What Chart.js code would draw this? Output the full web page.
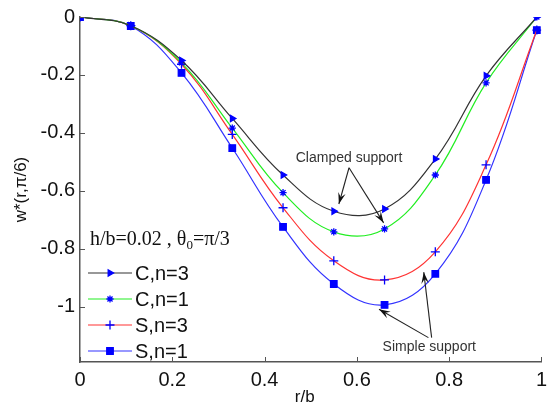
<!DOCTYPE html>
<html>
<head>
<meta charset="utf-8">
<script src="https://cdn.jsdelivr.net/npm/chart.js@4/dist/chart.umd.min.js"></script>
<style>
  html, body { margin: 0; padding: 0; background: #fff; }
  #wrap { width: 553px; height: 406px; }
</style>
</head>
<body>
<div id="wrap"><canvas id="defl"></canvas></div>
<script>
// radial position r/b
var rb = [0, 0.11, 0.22, 0.33, 0.44, 0.55, 0.66, 0.77, 0.88, 0.99];
// w*(r, pi/6) for each support / n
var clampN3 = [0, -0.03, -0.15, -0.35, -0.545, -0.67, -0.662, -0.49, -0.203, 0];
var clampN1 = [0, -0.03, -0.158, -0.383, -0.606, -0.741, -0.731, -0.545, -0.227, 0];
var simpleN3 = [0, -0.03, -0.163, -0.405, -0.658, -0.841, -0.907, -0.81, -0.51, -0.045];
var simpleN1 = [0, -0.031, -0.193, -0.452, -0.724, -0.921, -0.993, -0.886, -0.562, -0.045];
var seriesNames = ["C,n=3", "C,n=1", "S,n=3", "S,n=1"];
var xTicks = [0, 0.2, 0.4, 0.6, 0.8, 1];
var yTicks = [0, -0.2, -0.4, -0.6, -0.8, -1];

var axisColor = "#555";
var markBlue = "#0000ff";
var sans = "'Liberation Sans', Arial, sans-serif";

function pts(ys) {
	var out = [];
	for (var i = 0; i < rb.length; i++) {
		out.push({ x: rb[i], y: ys[i] });
	}
	return out;
}

function makeSet(label, ys, color, style, radius, rot) {
	return {
		label: label,
		data: pts(ys),
		borderColor: color,
		borderWidth: 1.2,
		tension: 0.4,
		pointStyle: style,
		pointRadius: radius,
		pointRotation: rot || 0,
		pointBackgroundColor: markBlue,
		pointBorderColor: markBlue,
		pointBorderWidth: 1.3,
		fill: false
	};
}

// inward tick marks, axis titles, legend and arrows
var extras = {
	id: "extras",
	afterDraw: function(c) {
		var ctx = c.ctx;
		var xs = c.scales.x, ys = c.scales.y, a = c.chartArea;
		ctx.save();
		ctx.strokeStyle = axisColor;
		ctx.lineWidth = 1;
		xTicks.forEach(function(v) {
			var px = Math.round(xs.getPixelForValue(v)) + 0.5;
			ctx.beginPath();
			ctx.moveTo(px, a.bottom);
			ctx.lineTo(px, a.bottom - 5);
			ctx.stroke();
		});
		yTicks.forEach(function(v) {
			var py = Math.round(ys.getPixelForValue(v)) + 0.5;
			ctx.beginPath();
			ctx.moveTo(a.left, py);
			ctx.lineTo(a.left + 5, py);
			ctx.stroke();
		});

		// axis titles
		ctx.fillStyle = "#111";
		ctx.font = "17px " + sans;
		ctx.textAlign = "center";
		ctx.textBaseline = "middle";
		ctx.fillText("r/b", (a.left + a.right) / 2 - 6, 397);
		ctx.save();
		ctx.translate(21, (a.top + a.bottom) / 2);
		ctx.rotate(-Math.PI / 2);
		ctx.fillText("w*(r,π/6)", 0, 0);
		ctx.restore();
		ctx.textAlign = "left";

		// parameter note
		ctx.textBaseline = "alphabetic";
		ctx.font = "20px 'Liberation Serif', serif";
		var tx = 90, ty = 245;
		var s1 = "h/b=0.02 , θ";
		ctx.fillText(s1, tx, ty);
		tx += ctx.measureText(s1).width;
		ctx.font = "13px 'Liberation Serif', serif";
		ctx.fillText("0", tx, ty + 4);
		tx += ctx.measureText("0").width;
		ctx.font = "20px 'Liberation Serif', serif";
		ctx.fillText("=π/3", tx, ty);

		// legend
		var sets = c.data.datasets;
		ctx.font = "20px " + sans;
		ctx.textBaseline = "middle";
		for (var i = 0; i < sets.length; i++) {
			var ly = 273 + i * 26;
			ctx.strokeStyle = sets[i].borderColor;
			ctx.lineWidth = 1.2;
			ctx.beginPath();
			ctx.moveTo(88, ly);
			ctx.lineTo(132, ly);
			ctx.stroke();
			ctx.fillStyle = markBlue;
			ctx.strokeStyle = markBlue;
			ctx.lineWidth = 1.3;
			Chart.helpers.drawPoint(ctx, {
				pointStyle: sets[i].pointStyle,
				radius: sets[i].pointRadius,
				rotation: sets[i].pointRotation,
				borderWidth: 1.3
			}, 110, ly);
			ctx.fillStyle = "#111";
			ctx.fillText(sets[i].label, 135, ly + 1);
		}

		// annotations
		ctx.font = "14px " + sans;
		ctx.fillStyle = "#333";
		ctx.textAlign = "center";
		ctx.fillText("Clamped support", xs.getPixelForValue(0.583), ys.getPixelForValue(-0.487));
		ctx.fillText("Simple support", xs.getPixelForValue(0.757), ys.getPixelForValue(-1.138));

		function arrow(x0, y0, x1, y1) {
			var p0x = xs.getPixelForValue(x0), p0y = ys.getPixelForValue(y0);
			var p1x = xs.getPixelForValue(x1), p1y = ys.getPixelForValue(y1);
			var ang = Math.atan2(p1y - p0y, p1x - p0x);
			ctx.strokeStyle = "#222";
			ctx.fillStyle = "#111";
			ctx.lineWidth = 1.1;
			ctx.beginPath();
			ctx.moveTo(p0x, p0y);
			ctx.lineTo(p1x, p1y);
			ctx.stroke();
			ctx.beginPath();
			ctx.moveTo(p1x, p1y);
			ctx.lineTo(p1x - 12 * Math.cos(ang - 0.32), p1y - 12 * Math.sin(ang - 0.32));
			ctx.lineTo(p1x - 7 * Math.cos(ang), p1y - 7 * Math.sin(ang));
			ctx.lineTo(p1x - 12 * Math.cos(ang + 0.32), p1y - 12 * Math.sin(ang + 0.32));
			ctx.closePath();
			ctx.fill();
		}
		arrow(0.583, -0.52, 0.561, -0.645);
		arrow(0.583, -0.52, 0.658, -0.71);
		arrow(0.755, -1.106, 0.648, -1.008);
		arrow(0.762, -1.106, 0.745, -0.88);
		ctx.restore();
	}
};

new Chart(document.getElementById("defl"), {
	type: "line",
	data: {
		datasets: [
			makeSet(seriesNames[0], clampN3, "#333333", "triangle", 3.6, 90),
			makeSet(seriesNames[1], clampN1, "#22ee22", "star", 3.6),
			makeSet(seriesNames[2], simpleN3, "#ff3333", "cross", 4.5),
			makeSet(seriesNames[3], simpleN1, "#3333ff", "rect", 4.6)
		]
	},
	options: {
		responsive: true,
		maintainAspectRatio: false,
		animation: false,
		layout: { padding: { top: 16, right: 5, left: 0, bottom: 0 } },
		plugins: {
			legend: { display: false },
			tooltip: { enabled: false }
		},
		scales: {
			x: {
				type: "linear",
				min: 0,
				max: 1,
				afterBuildTicks: function(s) {
					s.ticks = xTicks.map(function(v) { return { value: v }; });
				},
				afterFit: function(s) { s.height = 44; },
				grid: { display: false, drawTicks: false },
				border: { color: axisColor, width: 1.5 },
				ticks: {
					padding: 6,
					color: "#111",
					font: { family: sans, size: 20 },
					callback: function(v) { return String(v); }
				}
			},
			y: {
				type: "linear",
				min: -1.19,
				max: 0,
				afterBuildTicks: function(s) {
					s.ticks = yTicks.map(function(v) { return { value: v }; });
				},
				afterFit: function(s) { s.width = 80; },
				grid: { display: false, drawTicks: false },
				border: { color: axisColor, width: 1.5 },
				ticks: {
					padding: 5,
					color: "#111",
					font: { family: sans, size: 20 },
					callback: function(v) { return String(Math.round(v * 10) / 10); }
				}
			}
		}
	},
	plugins: [extras]
});
</script>
</body>
</html>
